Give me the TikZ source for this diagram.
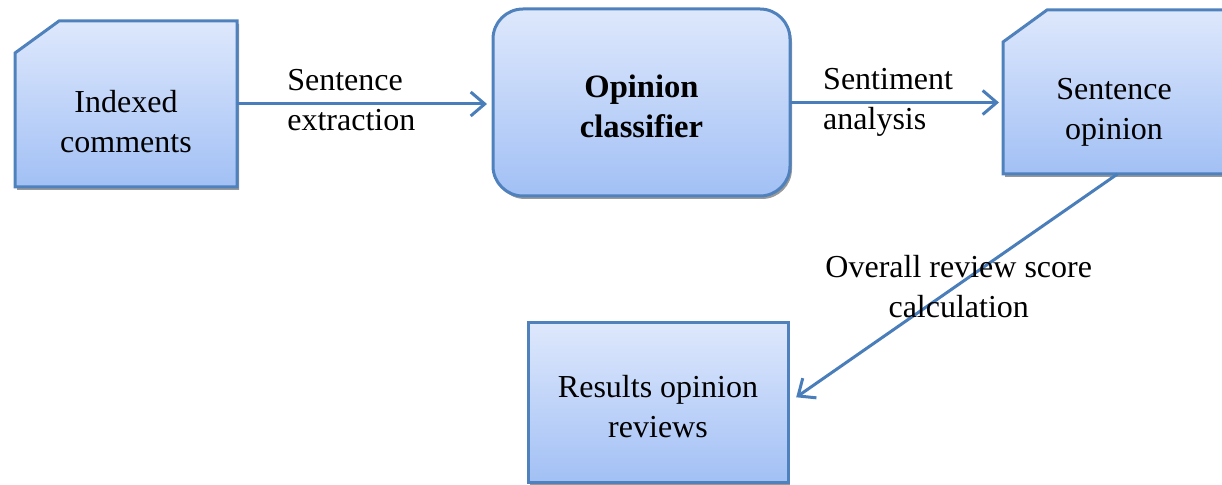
\documentclass[tikz,border=0pt]{standalone}
\usepackage{fontspec}
\setmainfont{Liberation Serif}
\usepackage{tikz}
\usetikzlibrary{arrows.meta,positioning,shadows}
\definecolor{BoxLine}{HTML}{4F81BD}
\definecolor{BoxTop}{HTML}{DEE8FC}
\definecolor{BoxBottom}{HTML}{A2C0F5}
\definecolor{FlowBlue}{HTML}{4A7EBB}
\tikzset{
  boxshade/.style={draw=BoxLine,line width=1.5pt,top color=BoxTop,bottom color=BoxBottom,drop shadow={shadow xshift=1pt,shadow yshift=-1.5pt,fill=black!40,opacity=1}},
  boxframe/.style={inner sep=0pt,outer sep=0pt},
  procbox/.style={boxshade,boxframe,rounded corners=15pt},
  databox/.style={boxshade,boxframe},
  boxtext/.style={align=center,font=\fontsize{16}{20}\selectfont},
  proctext/.style={align=center,font=\fontsize{16.3}{20}\selectfont\bfseries},
  edgelabel/.style={align=left,font=\fontsize{16}{20}\selectfont},
  flowarrow/.style={-{Straight Barb[length=7pt,width=12pt]},line width=1.5pt,draw=FlowBlue}
}

\begin{document}
\begin{tikzpicture}[x=0.5pt,y=-0.5pt]
\clip (0,0) rectangle (1222,485);
\node[boxframe,minimum width=111pt,minimum height=83pt] (idx) at (126,104) {};
\path[boxshade] (idx.south west) -- (idx.south east) -- (idx.north east) -- ([xshift=22pt]idx.north west) -- ([yshift=-16pt]idx.north west) -- cycle;
\node[boxtext] (idxtext) at (126,122) {Indexed\\comments};
\node[procbox,minimum width=148.5pt,minimum height=93.5pt] (cls) at (641.5,102.5) {};
\node[proctext] (clstext) at (641.5,106) {Opinion\\classifier};
\node[boxframe,minimum width=118.5pt,minimum height=82pt] (op) at (1121.5,92) {};
\path[boxshade] (op.south west) -- (op.south east) -- (op.north east) -- ([xshift=22pt]op.north west) -- ([yshift=-16pt]op.north west) -- cycle;
\node[boxtext] (optext) at (1114,112) {Sentence\\opinion};
\node[databox,minimum width=130pt,minimum height=80pt] (res) at (658,403) {};
\node[boxtext] (restext) at (658,406.5) {Results opinion\\reviews};
\draw[flowarrow,shorten >=3pt] (idx.east) -- node[edgelabel,pos=0.47,xshift=-3pt,yshift=2.2pt] (lblextract) {Sentence\\extraction} (idx.east -| cls.west);
\draw[flowarrow,shorten >=2pt] (cls.east) -- node[edgelabel,pos=0.47,xshift=-1pt] (lblsentiment) {Sentiment\\analysis} (cls.east -| op.west);
\draw[flowarrow,shorten >=5pt] ([xshift=-2pt]op.south) -- node[boxtext,pos=0.5,xshift=3pt,yshift=1pt] (lblscore) {Overall review score\\calculation} (res.east);
\end{tikzpicture}
\end{document}
